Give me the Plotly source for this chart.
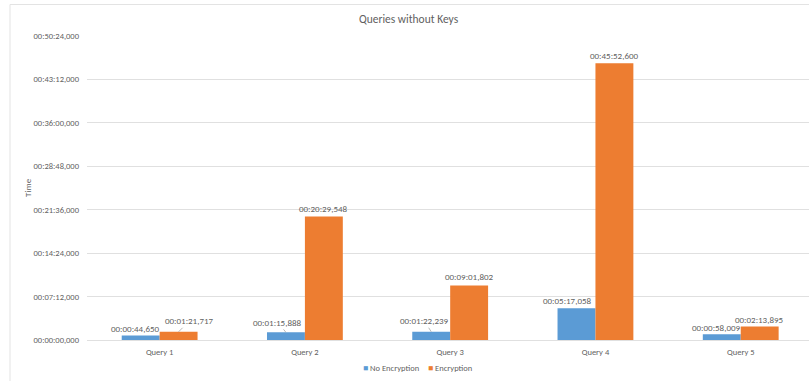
import plotly.graph_objects as go

categories = ["Query 1", "Query 2", "Query 3", "Query 4", "Query 5"]
# durations in seconds
no_encryption = [44.650, 75.888, 82.239, 317.058, 58.009]
encryption = [81.717, 1229.548, 541.802, 2752.600, 133.895]
series_names = ["No Encryption", "Encryption"]
tick_seconds = [0, 432, 864, 1296, 1728, 2160, 2592, 3024]
tick_labels = ["00:00:00,000", "00:07:12,000", "00:14:24,000", "00:21:36,000",
               "00:28:48,000", "00:36:00,000", "00:43:12,000", "00:50:24,000"]


def fmt(sec):
    ms = int(round(sec * 1000))
    h, rem = divmod(ms, 3600000)
    m, rem = divmod(rem, 60000)
    s, ms = divmod(rem, 1000)
    return f"{h:02d}:{m:02d}:{s:02d},{ms:03d}"


FONT = "Carlito, Calibri, Lato, sans-serif"
GRAY = "#5f5f5f"
BLUE = "#5b9bd5"
ORANGE = "#ed7d31"
GRID = "#e0e0e0"

ML, MT, PW, PH = 87, 36, 722, 304


def px_x(px):
    return (px - ML) / PW


def px_y(py):
    return (MT + PH - py) / PH


fig = go.Figure()
fig.add_bar(x=categories, y=no_encryption, name=series_names[0],
            marker=dict(color=BLUE, line=dict(width=0)), hoverinfo="skip")
fig.add_bar(x=categories, y=encryption, name=series_names[1],
            marker=dict(color=ORANGE, line=dict(width=0)), hoverinfo="skip")

# label styles: (xshift px, yshift px, leader line)
blue_style = [(-5, 7, False), (-8, 10, True), (-7, 11, True), (-9, 8, False), (-5, 7, False)]
orange_style = [(11, 11, True), (0, 8, False), (0, 9, False), (0, 8, False), (0, 7, False)]

bw = 0.261
annotations = []
LBL = dict(family=FONT, size=9, color=GRAY)
for series, offs, styles in ((no_encryption, -bw / 2, blue_style), (encryption, bw / 2, orange_style)):
    for i, v in enumerate(series):
        dx, dy, leader = styles[i]
        if leader:
            annotations.append(dict(x=i + offs, y=v, xref="x", yref="y", text=fmt(v),
                                    showarrow=True, arrowhead=0, arrowwidth=0.8,
                                    arrowcolor="#a6a6a6", ax=dx, ay=-dy, standoff=0,
                                    font=LBL))
        else:
            annotations.append(dict(x=i + offs, y=v, xref="x", yref="y", text=fmt(v),
                                    showarrow=False, xshift=dx, yshift=dy,
                                    yanchor="middle", font=LBL))

annotations.append(dict(x=px_x(27), y=0.5, xref="paper", yref="paper", text="Time",
                        textangle=-90, showarrow=False, xanchor="center", yanchor="middle",
                        font=dict(family=FONT, size=9, color=GRAY)))

# custom compact legend (Excel style)
for name, color, lx in ((series_names[0], BLUE, 361), (series_names[1], ORANGE, 426)):
    annotations.append(dict(x=px_x(lx), y=px_y(368), xref="paper", yref="paper",
                            text=f'<span style="color:{color}">■</span> {name}',
                            showarrow=False, xanchor="left", yanchor="middle",
                            font=dict(family=FONT, size=8.5, color=GRAY)))

fig.update_layout(
    width=809, height=381,
    margin=dict(l=ML, r=0, t=MT, b=381 - MT - PH),
    paper_bgcolor="white", plot_bgcolor="white",
    font=dict(family=FONT, size=8.5, color=GRAY),
    title=dict(text="Queries without Keys", x=0.505, xref="container", xanchor="center",
               y=1 - 19 / 381, yref="container", yanchor="middle",
               font=dict(family=FONT, size=11.5, color=GRAY)),
    barmode="group", bargap=0.478, bargroupgap=0,
    showlegend=False,
    xaxis=dict(type="category", range=[-0.5, 4.47], showgrid=False,
               showline=True, linecolor=GRID, linewidth=1, ticks="",
               tickfont=dict(family=FONT, size=8.5, color=GRAY), ticklabelstandoff=4),
    yaxis=dict(range=[0, 3024], tickvals=tick_seconds, ticktext=tick_labels,
               showgrid=True, gridcolor=GRID, gridwidth=1, zeroline=False,
               showline=False, ticks="", ticklabelstandoff=7,
               tickfont=dict(family=FONT, size=8.5, color=GRAY)),
    annotations=annotations,
    shapes=[dict(type="rect", xref="paper", yref="paper",
                 x0=px_x(10), x1=px_x(830), y0=px_y(382), y1=px_y(4.5),
                 line=dict(color="#e3e3e3", width=1), fillcolor="rgba(0,0,0,0)", layer="below")],
)

fig.write_html("out.html", config={"displayModeBar": False},
               post_script="document.body.style.margin='0';document.body.style.overflow='hidden';")
